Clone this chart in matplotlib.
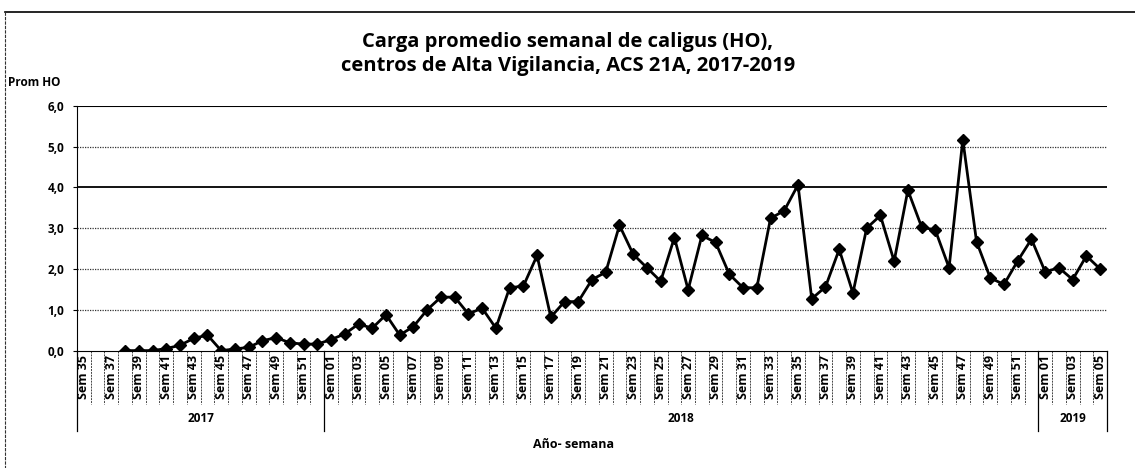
import matplotlib
matplotlib.use("Agg")
import matplotlib.pyplot as plt
from matplotlib.lines import Line2D
import numpy as np

# ---- data ----
weeks_2017 = list(range(35, 53))
weeks_2018 = list(range(1, 53))
weeks_2019 = list(range(1, 6))

values_2017 = [None, None, None, 0.00, 0.00, 0.00, 0.05, 0.13, 0.30, 0.38,
               0.00, 0.04, 0.08, 0.24, 0.32, 0.19, 0.16, 0.16]
values_2018 = [0.27, 0.41, 0.65, 0.55, 0.88, 0.38, 0.59, 1.00, 1.31, 1.31,
               0.90, 1.04, 0.55, 1.54, 1.58, 2.33, 0.82, 1.20, 1.20, 1.74,
               1.92, 3.07, 2.36, 2.03, 1.70, 2.77, 1.49, 2.82, 2.65, 1.87,
               1.54, 1.54, 3.24, 3.43, 4.06, 1.27, 1.56, 2.48, 1.41, 3.00,
               3.31, 2.19, 3.93, 3.03, 2.95, 2.03, 5.17, 2.67, 1.78, 1.62,
               2.20, 2.73]
values_2019 = [1.93, 2.03, 1.74, 2.32, 2.00]

years = ["2017", "2018", "2019"]
yticks = [0, 1, 2, 3, 4, 5, 6]

title = "Carga promedio semanal de caligus (HO),\ncentros de Alta Vigilancia, ACS 21A, 2017-2019"
ylabel = "Prom HO"
xlabel = "Año- semana"

# ---- build ----
week_labels = ["Sem %02d" % w for w in weeks_2017 + weeks_2018 + weeks_2019]
vals = np.array([np.nan if v is None else v for v in values_2017 + values_2018 + values_2019], dtype=float)
n = len(week_labels)
x = np.arange(n)
group_sizes = [len(weeks_2017), len(weeks_2018), len(weeks_2019)]

W, H = 1135, 468
fig = plt.figure(figsize=(W / 100, H / 100), dpi=100)
fig.patch.set_facecolor("white")
plt.rcParams['font.family'] = ['Open Sans', 'DejaVu Sans']

left, right, top, bottom = 77, 1107, 105.7, 350.6
ax = fig.add_axes([left / W, 1 - bottom / H, (right - left) / W, (bottom - top) / H])

ax.plot(x, vals, color="black", lw=2.0, marker="D", markersize=6.5,
        markerfacecolor="black", markeredgecolor="black", zorder=3)

ax.set_xlim(-0.5, n - 0.5)
ax.set_ylim(0, 6)
ax.set_yticks(yticks)
ax.yaxis.set_major_formatter(matplotlib.ticker.FuncFormatter(lambda v, p: ("%.1f" % v).replace(".", ",")))
for lab in ax.get_yticklabels():
    lab.set_fontweight("bold")
ax.tick_params(axis="y", labelsize=8.5, length=3, width=0.8, pad=6)

# grid lines
for t in yticks[1:]:
    if t == 4:
        ax.axhline(t, color="black", lw=1.3, zorder=1)
    elif t == 6:
        ax.axhline(t, color="black", lw=1.5, zorder=1)
    else:
        ax.axhline(t, color="#333333", lw=0.9, ls=(0, (1, 1)), zorder=1)

for s in ["top", "right"]:
    ax.spines[s].set_visible(False)
ax.spines["left"].set_linestyle((0, (2, 1)))
ax.spines["left"].set_linewidth(0.8)
ax.spines["bottom"].set_linestyle((0, (2, 1)))
ax.spines["bottom"].set_linewidth(0.8)

# x tick labels every other week
ax.set_xticks(x[::2])
ax.set_xticklabels(week_labels[::2], rotation=90, fontsize=9, fontweight="bold", va="top", ha="center")
ax.tick_params(axis="x", length=0, pad=3)

trans = ax.get_xaxis_transform()
h_ax = bottom - top
cell_bottom = -(404 - bottom) / h_ax
year_bottom = -(431 - bottom) / h_ax
for i in range(n + 1):
    ax.add_line(Line2D([i - 0.5, i - 0.5], [0, cell_bottom], transform=trans,
                       color="#444444", lw=0.7, ls=(0, (2, 1)), clip_on=False))
# year groups
start = 0
bounds = [0]
for g in group_sizes:
    start += g
    bounds.append(start)
for b in bounds:
    ax.add_line(Line2D([b - 0.5, b - 0.5], [0, year_bottom], transform=trans,
                       color="black", lw=0.9, clip_on=False))
year_y = -(419 - bottom) / h_ax
for k, yr in enumerate(years):
    cx = (bounds[k] + bounds[k + 1]) / 2 - 0.5
    ax.text(cx, year_y, yr, transform=trans, ha="center", va="center",
            fontsize=8.5, fontweight="bold")

fig.text(574 / W, 1 - 445 / H, xlabel, ha="center", va="center", fontsize=9, fontweight="bold")
fig.text(8 / W, 1 - 82 / H, ylabel, ha="left", va="center", fontsize=8.5, fontweight="bold")
fig.text(568 / W, 1 - 54 / H, title, ha="center", va="center", fontsize=14.5,
         fontweight="bold", linespacing=1.3)

# outer frame (scan border)
fig.add_artist(Line2D([5 / W, 1], [1 - 12 / H, 1 - 12 / H], transform=fig.transFigure, color="black", lw=1.2))
fig.add_artist(Line2D([5 / W, 5 / W], [1 - 12 / H, 0], transform=fig.transFigure, color="#333333", lw=0.8, ls=(0, (3, 1))))

fig.savefig("out.png", dpi=100, facecolor="white")
